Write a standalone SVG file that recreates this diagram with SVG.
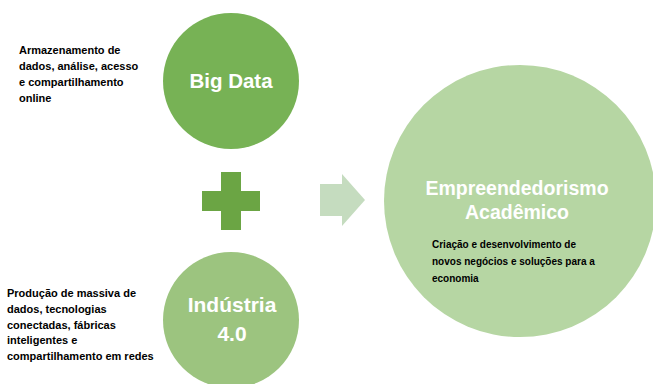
<svg xmlns="http://www.w3.org/2000/svg" width="653" height="384" viewBox="0 0 653 384">
<style>
.lbl{font-family:"Liberation Sans",Arial,sans-serif;font-weight:bold;fill:#ffffff;text-anchor:middle}
.desc{font-family:"Liberation Sans",Arial,sans-serif;font-weight:bold;fill:#000000;font-size:11px}
.small{font-size:10px}
</style>
<rect width="653" height="384" fill="#ffffff"/>
<g id="big-data">
<circle cx="231" cy="81" r="68" fill="#77b255"/>
<text class="lbl" x="231" y="88" font-size="20.5">Big Data</text>
</g>
<g id="big-data-desc">
<text class="desc" x="19" y="54">Armazenamento de</text>
<text class="desc" x="19" y="70">dados, análise, acesso</text>
<text class="desc" x="19" y="86">e compartilhamento</text>
<text class="desc" x="19" y="102">online</text>
</g>
<g id="plus">
<path d="M221,172 H241 V191 H260 V211 H241 V230 H221 V211 H202 V191 H221 Z" fill="#6ba544"/>
</g>
<g id="industria">
<circle cx="231" cy="320" r="68" fill="#9cc47f"/>
<text class="lbl" x="232" y="312" font-size="21">Indústria</text>
<text class="lbl" x="232" y="341" font-size="21">4.0</text>
</g>
<g id="industria-desc">
<text class="desc" x="7" y="297">Produção de massiva de</text>
<text class="desc" x="7" y="313">dados, tecnologias</text>
<text class="desc" x="7" y="329">conectadas, fábricas</text>
<text class="desc" x="7" y="344">inteligentes e</text>
<text class="desc" x="7" y="360">compartilhamento em redes</text>
</g>
<g id="connectors">
<path d="M320,184 H342 V174 L365,200 L342,226 V216 H320 Z" fill="#c5dcbf"/>
</g>
<g id="empreendedorismo">
<circle cx="520" cy="201" r="136" fill="#b6d6a3"/>
<text class="lbl" x="517" y="195" font-size="19.5" fill="#f4f8f1">Empreendedorismo</text>
<text class="lbl" x="517" y="219" font-size="19.5">Acadêmico</text>
<text class="desc small" x="432" y="248">Criação e desenvolvimento de</text>
<text class="desc small" x="432" y="265">novos negócios e soluções para a</text>
<text class="desc small" x="432" y="282">economia</text>
</g>
</svg>
